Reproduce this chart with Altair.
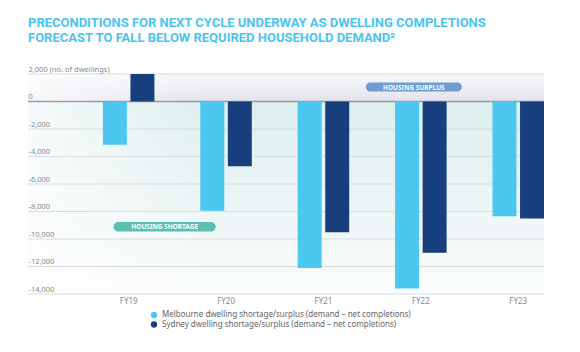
import altair as alt
import pandas as pd

# ---- data ----
years = ["FY19", "FY20", "FY21", "FY22", "FY23"]
series = [
    "Melbourne dwelling shortage/surplus (demand – net completions)",
    "Sydney dwelling shortage/surplus (demand – net completions)",
]
melbourne = [-3150, -7950, -12100, -13600, -8350]
sydney = [2000, -4700, -9500, -11000, -8500]
y_ticks = [2000, 0, -2000, -4000, -6000, -8000, -10000, -12000, -14000]
y_domain = [-14000, 2000]
ann_labels = ["HOUSING SURPLUS", "HOUSING SHORTAGE"]
ann_years = ["FY22", "FY19"]
ann_values = [1050, -9100]
title_lines = [
    "PRECONDITIONS FOR NEXT CYCLE UNDERWAY AS DWELLING COMPLETIONS",
    "FORECAST TO FALL BELOW REQUIRED HOUSEHOLD DEMAND\u00b2",
]

colors = ["#4cc7f0", "#173f7d"]

rows = []
for i, y in enumerate(years):
    rows.append({"year": y, "series": series[0], "value": melbourne[i]})
    rows.append({"year": y, "series": series[1], "value": sydney[i]})
df = pd.DataFrame(rows)

W, H = 516, 220
FONT = "Noto Sans"

x_scale = alt.Scale(domain=years, paddingInner=0.471, paddingOuter=0.3845, align=1)
y_scale = alt.Scale(domain=y_domain, nice=False, zero=False)
y_axis = alt.Axis(values=y_ticks, grid=False, ticks=False, tickSize=0, domain=False,
                  labelAlign="left", labelPadding=0, labelBaseline="alphabetic",
                  labelOffset=-3, labelFont=FONT, labelFontSize=7.5,
                  labelColor="#8a8a8a", title=None, zindex=1, labelOverlap=False,
                  labelExpr="datum.value == 2000 ? '2,000 (no. of dwellings)' : replace(format(datum.value, ','), '\u2212', '-')")
x_axis = alt.Axis(labelFont=FONT, labelFontSize=8, labelColor="#8a8a8a", title=None,
                  ticks=False, domain=False, labelPadding=3, labelAngle=0)


def yenc(field):
    return alt.Y(field, scale=y_scale, axis=y_axis, title=None)


# background: above zero (lavender), below zero (mint)
bg_top = alt.Chart(pd.DataFrame({"a": [y_domain[1]], "b": [0]})).mark_rect(
    fill=alt.Gradient(
        gradient="linear", x1=0, x2=0, y1=0, y2=1,
        stops=[alt.GradientStop(color="#f7f7fb", offset=0),
               alt.GradientStop(color="#e3e3ee", offset=1)],
    )
).encode(y=yenc("a:Q"), y2="b:Q")

bg_bot = alt.Chart(pd.DataFrame({"a": [0], "b": [y_domain[0]]})).mark_rect(
    fill=alt.Gradient(
        gradient="linear", x1=0, x2=0, y1=0, y2=1,
        stops=[alt.GradientStop(color="#dcefed", offset=0),
               alt.GradientStop(color="#eaf4f4", offset=0.45),
               alt.GradientStop(color="#fbfcfd", offset=1)],
    )
).encode(y=yenc("a:Q"), y2="b:Q")

bg_fade = alt.Chart(pd.DataFrame({"a": [y_domain[1]], "b": [y_domain[0]]})).mark_rect(
    fill=alt.Gradient(
        gradient="linear", x1=0, x2=1, y1=0, y2=0,
        stops=[alt.GradientStop(color="rgba(255,255,255,0.75)", offset=0),
               alt.GradientStop(color="rgba(255,255,255,0)", offset=0.35)],
    )
).encode(y=yenc("a:Q"), y2="b:Q")

grid = alt.Chart(pd.DataFrame({"v": [t for t in y_ticks if t != 0]})).mark_rule(
    color="#d9dcdf", strokeWidth=1
).encode(y=yenc("v:Q"))

zero = alt.Chart(pd.DataFrame({"v": [0]})).mark_rule(
    color="#9b9b9b", strokeWidth=1.6
).encode(y=yenc("v:Q"))

bars = alt.Chart(df).mark_bar().encode(
    x=alt.X("year:N", scale=x_scale, sort=years, axis=x_axis, title=None),
    xOffset=alt.XOffset("series:N", sort=series,
                        scale=alt.Scale(domain=series, paddingInner=0.13, paddingOuter=0)),
    y=yenc("value:Q"),
    color=alt.Color("series:N", scale=alt.Scale(domain=series, range=colors),
                    legend=alt.Legend(title=None, orient="none", legendX=122, legendY=237,
                                      direction="vertical", symbolType="circle",
                                      symbolSize=40, labelFont=FONT, labelFontSize=8,
                                      labelColor="#666666", rowPadding=1.5, labelLimit=0,
                                      symbolStrokeWidth=0)),
)


def pill(idx, w, h, fill, dx):
    half = h / 2 / (w / 2)
    c = 1 - half
    path = (f"M {-c} {-half} L {c} {-half} A {half} {half} 0 0 1 {c} {half} "
            f"L {-c} {half} A {half} {half} 0 0 1 {-c} {-half} Z")
    d = pd.DataFrame({"year": [ann_years[idx]], "v": [ann_values[idx]], "t": [ann_labels[idx]]})
    base = alt.Chart(d).encode(
        x=alt.X("year:N", scale=x_scale, sort=years, axis=x_axis, title=None),
        y=yenc("v:Q"),
    )
    shape = base.mark_point(shape=path, size=w * w, filled=True, fill=fill,
                            opacity=1, strokeWidth=0, xOffset=dx)
    txt = base.mark_text(font=FONT, fontWeight="bold", fontSize=6.5, color="white",
                         dx=dx, dy=0.5).encode(text="t:N")
    return shape + txt


surplus = pill(0, 96, 9, "#6d9dd3", -7)
shortage = pill(1, 102, 9.5, "#59c0b3", 36)

chart = alt.layer(bg_top, bg_bot, bg_fade, grid, zero, bars, surplus, shortage).properties(
    width=W, height=H,
    title=alt.TitleParams(text=title_lines, anchor="start", frame="group",
                          font="Roboto", fontWeight="bold", fontSize=13, color="#4bc4ef",
                          lineHeight=15.5, baseline="bottom", offset=7),
    autosize=alt.AutoSizeParams(type="none"),
    padding={"left": 28, "top": 74, "right": 36, "bottom": 58},
).configure_view(stroke=None).resolve_scale(x="shared", y="shared")

chart.save("out.html", embed_options={"renderer": "svg", "actions": False})
